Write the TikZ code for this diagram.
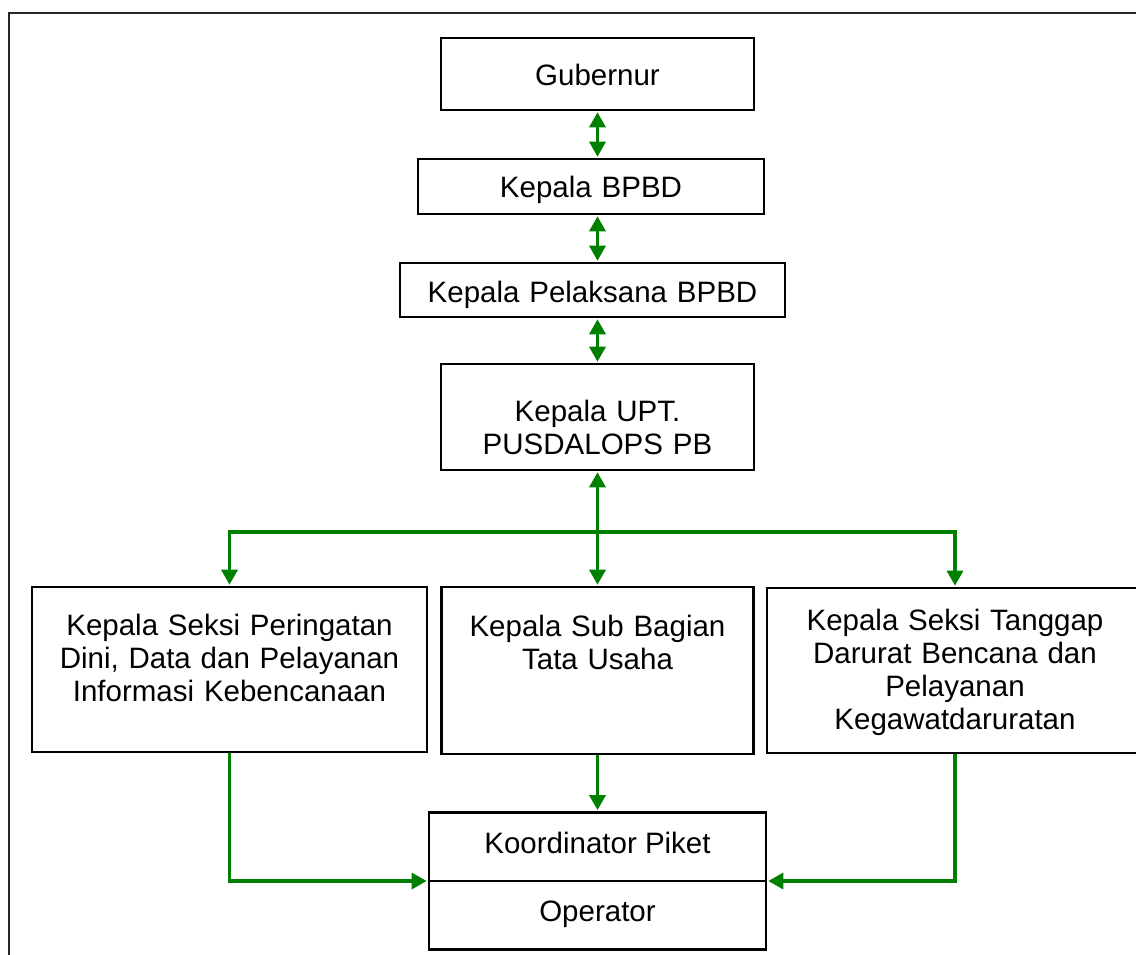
\documentclass[tikz,border=0pt]{standalone}
\usepackage{fontspec}
\setmainfont{Liberation Sans}
\usetikzlibrary{arrows.meta,shapes.multipart}
\definecolor{linkgreen}{RGB}{0,128,0}
\tikzset{
  unit/.style={draw, line width=2.6pt, inner sep=0pt, align=center,
    font=\fontsize{29.5pt}{33pt}\selectfont},
  link/.style={draw=linkgreen, line width=3.3pt, shorten >=1pt,
    -{Triangle[length=15pt,width=16pt]}},
  twoway/.style={link, shorten <=1pt,
    {Triangle[length=15pt,width=16pt]}-{Triangle[length=15pt,width=16pt]}},
}
\begin{document}
\begin{tikzpicture}[x=1pt, y=-1pt]
    \useasboundingbox (0,0) rectangle (1136,954);
    % outer frame
    \draw[line width=2pt, black!85] (9,970) -- (9,13) -- (1150,13);

    % top chain
    \node[unit, text width=313pt, text height=47pt, text depth=25pt] (gub) at (597.5,74) {Gubernur};
    \node[unit, text width=346pt, text height=38pt, text depth=17pt] (kbpbd) at (591,186.5) {Kepala BPBD};
    \node[unit, text width=385pt, text height=39pt, text depth=15pt] (kpel) at (592.5,290) {Kepala Pelaksana BPBD};
    \node[unit, text width=313pt, text height=57pt, text depth=49pt] (kupt) at (597.5,417) {Kepala UPT.\\PUSDALOPS PB};

    % sections
    \node[unit, text width=395pt, text height=48pt, text depth=117pt] (kdini) at (229.5,669.5)
        {Kepala Seksi Peringatan\\Dini, Data dan Pelayanan\\Informasi Kebencanaan};
    \node[unit, text width=312pt, text height=49pt, text depth=118pt] (ktu) at (597.5,670.5)
        {Kepala Sub Bagian\\Tata Usaha};
    \node[unit, text width=376pt, text height=42pt, text depth=123pt] (kdarurat) at (955,670.5)
        {Kepala Seksi Tanggap\\Darurat Bencana dan\\Pelayanan\\Kegawatdaruratan};

    % piket
    \node[unit, rectangle split, rectangle split parts=2, rectangle split draw splits=false,
        minimum width=337pt, inner ysep=16.5pt] (kp) at (597.5,881)
        {\strut Koordinator Piket \nodepart{two} \strut Operator};
    \draw[line width=1.5pt] (kp.text split west) -- (kp.text split east);

    % connectors
    \draw[twoway] (gub.south) -- (gub.south |- kbpbd.north);
    \draw[twoway] (gub.south |- kbpbd.south) -- (gub.south |- kpel.north);
    \draw[twoway] (gub.south |- kpel.south) -- (kupt.north);
    \draw[twoway] (kupt.south) -- (ktu.north);
    \coordinate (hub) at (597.5,532);
    \draw[link] (hub) -| (kdini.north);
    \draw[link] (hub) -| (kdarurat.north);
    \draw[link] (kdini.south) |- (kp.text split west);
    \draw[link] (kdarurat.south) |- (kp.text split east);
    \draw[link] (ktu.south) -- (kp.north);
\end{tikzpicture}
\end{document}
